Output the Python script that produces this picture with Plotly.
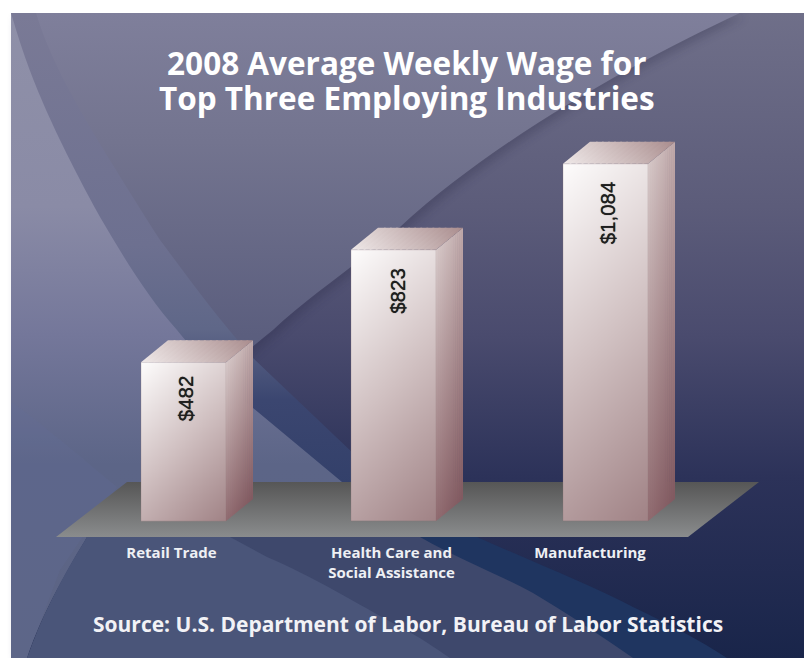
import base64
import numpy as np
import plotly.graph_objects as go

# Chart data
industries = ["Retail Trade", "Health Care and<br>Social Assistance", "Manufacturing"]
wages = [482, 823, 1084]
wage_labels = ["$482", "$823", "$1,084"]
title_text = "2008 Average Weekly Wage for<br>Top Three Employing Industries"
source_text = "Source: U.S. Department of Labor, Bureau of Labor Statistics"

# Page and plot geometry, in pixels
W, H = 804, 658
PLOT_BOTTOM = 537
BASE_Y = 521
X0_PX, X_STEP = 183.5, 211.0
PX_PER_DOLLAR = 0.3295

to_x = lambda px: (px - X0_PX) / X_STEP
to_y = lambda px: (BASE_Y - px) / PX_PER_DOLLAR

BAR_CENTRES_PX = [183.5, 393.5, 605.5]
TICK_CENTRES_PX = [171.5, 391.5, 590]
LABEL_CENTRES_PX = [185, 398, 607]
LABEL_DROP_PX = [11, 16, 16]

BAR_WIDTH = 85 / X_STEP
DEPTH_X = 27 / X_STEP
DEPTH_Y = 22 / PX_PER_DOLLAR


def mix(stops, t):
    """Colour at position t along a list of (position, (r, g, b)) stops."""
    for (p0, c0), (p1, c1) in zip(stops, stops[1:]):
        if t <= p1:
            f = 0 if p1 == p0 else max(0, (t - p0) / (p1 - p0))
            return tuple(a + (b - a) * f for a, b in zip(c0, c1))
    return stops[-1][1]


def css(c):
    return "rgb(%d,%d,%d)" % tuple(round(v) for v in c)


FRONT = [(0, (253, 252, 252)), (0.5, (208, 192, 193)), (1, (160, 130, 133))]
SIDE = [(0, (214, 200, 200)), (0.5, (168, 136, 138)), (1, (128, 88, 95))]
TOP = [(0, (240, 234, 234)), (0.5, (205, 188, 188)), (1, (168, 138, 139))]

BACKGROUND_SVG = f"""<svg xmlns='http://www.w3.org/2000/svg' width='{W}' height='{H}' viewBox='0 0 {W} {H}'>
<defs>
<linearGradient id='base' x1='0' y1='13' x2='0' y2='658' gradientUnits='userSpaceOnUse'>
<stop offset='0' stop-color='#6f6f89'/><stop offset='.3' stop-color='#5c5c7a'/>
<stop offset='.5' stop-color='#4a4b6e'/><stop offset='.72' stop-color='#2c3259'/>
<stop offset='1' stop-color='#19254a'/></linearGradient>
<linearGradient id='sweep' x1='0' y1='13' x2='0' y2='658' gradientUnits='userSpaceOnUse'>
<stop offset='0' stop-color='#7f7f9b'/><stop offset='.2' stop-color='#73748f'/>
<stop offset='.5' stop-color='#5b5e7e'/><stop offset='.75' stop-color='#4e587b'/>
<stop offset='1' stop-color='#475376'/></linearGradient>
<linearGradient id='edge' x1='0' y1='13' x2='0' y2='658' gradientUnits='userSpaceOnUse'>
<stop offset='0' stop-color='#8f90a8'/><stop offset='.3' stop-color='#8a8ba6'/>
<stop offset='.5' stop-color='#74779a'/><stop offset='.7' stop-color='#5c6587'/>
<stop offset='1' stop-color='#5c6484'/></linearGradient>
<linearGradient id='band' x1='0' y1='13' x2='0' y2='658' gradientUnits='userSpaceOnUse'>
<stop offset='0' stop-color='#7a7a96'/><stop offset='.36' stop-color='#6d7090'/>
<stop offset='.49' stop-color='#5f6788'/><stop offset='.6' stop-color='#3b4670'/>
<stop offset='.73' stop-color='#33406a'/><stop offset='1' stop-color='#33406a'/></linearGradient>
<linearGradient id='floor' x1='0' y1='482' x2='0' y2='537' gradientUnits='userSpaceOnUse'>
<stop offset='0' stop-color='#565656'/><stop offset='1' stop-color='#8a8c8d'/></linearGradient>
<filter id='soft'><feGaussianBlur stdDeviation='5'/></filter>
</defs>
<rect x='11' y='13' width='793' height='645' fill='url(#base)'/>
<path d='M740 13C640 60 500 135 400 227C360 263 310 295 273 330C190 395 130 480 87 537C55 590 38 625 27 658L11 658L11 13Z' fill='#20203c' opacity='.25' filter='url(#soft)' transform='translate(5 4)'/>
<rect x='0' y='0' width='804' height='13' fill='white'/>
<path d='M740 13C640 60 500 135 400 227C360 263 310 295 273 330C190 395 130 480 87 537C55 590 38 625 27 658L11 658L11 13Z' fill='url(#sweep)'/>
<path d='M36 13C55 75 93 133 160 240C190 280 215 315 253 358L355 455L355 482L11 482L11 13Z' fill='url(#band)'/>
<path d='M11 13C25 60 40 107 100 217C125 260 150 300 177 330C205 365 235 395 253 408L342 482L130 482L87 537C55 590 38 625 27 658L11 658Z' fill='url(#edge)'/>
<path d='M13 403C50 430 90 465 117 487L60 570L27 658L11 658L11 403Z' fill='#63709a' opacity='.2'/>
<path d='M477 537C540 565 590 585 633 607C670 625 700 640 727 658L420 658L420 537Z' fill='#1f3560'/>
<path d='M420 537C460 560 500 575 533 593C570 615 600 635 633 658L27 658L87 537Z' fill='#3e486c'/>
<path d='M267 557C310 575 360 605 400 627C420 637 435 648 450 658L27 658C40 620 60 580 87 537L230 537Z' fill='#4a5579'/>
<path d='M127 482L759 482L688 537L56 537Z' fill='url(#floor)'/>
</svg>"""
background_uri = "data:image/svg+xml;base64," + base64.b64encode(BACKGROUND_SVG.encode()).decode()

fig = go.Figure()

centres = [to_x(px) for px in BAR_CENTRES_PX]

for c, wage in zip(centres, wages):
    left = c - BAR_WIDTH / 2

    # 45 degree shading on the front face, measured in screen pixels
    n = 60
    dx, dy = BAR_WIDTH / n, wage / n
    u = (np.arange(n) + 0.5) / n
    w_px, h_px = 85.0, wage * PX_PER_DOLLAR
    z = (u[None, :] * w_px + (1 - u)[:, None] * h_px) / (w_px + h_px)
    scale = [[p, css(col)] for p, col in FRONT]
    fig.add_trace(go.Heatmap(
        x0=left + dx / 2, dx=dx, y0=dy / 2, dy=dy, z=z, zmin=0, zmax=1,
        colorscale=scale, showscale=False, zsmooth="best", hoverinfo="skip",
    ))

# Column outlines carrying the wage values
fig.add_trace(go.Bar(
    x=centres, y=wages, width=BAR_WIDTH,
    marker=dict(color="rgba(0,0,0,0)", line=dict(width=1, color="rgba(140,112,115,0.25)")),
    hoverinfo="skip", showlegend=False,
))

for c, wage in zip(centres, wages):
    left, right = c - BAR_WIDTH / 2, c + BAR_WIDTH / 2

    # Side and top faces, built from narrow columns with a graded fade
    slices = 14
    for i in range(slices):
        t0, t1 = i / slices, min(1, (i + 1.3) / slices)
        tm = (t0 + t1) / 2
        # Side face
        xa, xb = right + DEPTH_X * t0, right + DEPTH_X * t1
        ya0, yb0 = DEPTH_Y * t0, DEPTH_Y * t1
        fig.add_trace(go.Scatter(
            x=[xa, xb, xb, xa, xa], y=[ya0, yb0, wage + yb0, wage + ya0, ya0],
            mode="lines", line=dict(width=0), fill="toself",
            fillcolor=css(mix(SIDE, 0.5)),
            fillgradient=dict(type="vertical", colorscale=[
                [0, css(mix(SIDE, 0.8 + tm * 0.2))], [1, css(mix(SIDE, tm * 0.25))]]),
            hoverinfo="skip", showlegend=False,
        ))
        # Top face
        xa, xb = left + BAR_WIDTH * t0, left + BAR_WIDTH * t1
        fig.add_trace(go.Scatter(
            x=[xa, xb, xb + DEPTH_X, xa + DEPTH_X, xa],
            y=[wage, wage, wage + DEPTH_Y, wage + DEPTH_Y, wage],
            mode="lines", line=dict(width=0), fill="toself",
            fillcolor=css(mix(TOP, tm)),
            fillgradient=dict(type="horizontal", colorscale=[
                [0, css(mix(TOP, 0.6 * t0))], [1, css(mix(TOP, min(1, 0.6 * t1 + 0.4)))]]),
            hoverinfo="skip", showlegend=False,
        ))

# Rotated wage labels just under each column's top edge
for px, drop, wage, text in zip(LABEL_CENTRES_PX, LABEL_DROP_PX, wages, wage_labels):
    fig.add_annotation(
        x=to_x(px), y=wage - drop / PX_PER_DOLLAR, text=text, textangle=-90, showarrow=False,
        xanchor="center", yanchor="top",
        font=dict(family="Liberation Sans", size=20.5, color="#1e1e1e", shadow="0 0 0.7px #1e1e1e"),
    )

# Title and source line, placed by page pixel; the small base size sets the tight
# line spacing of the title while the span sets the size of its glyphs
title_lines = title_text.split("<br>")
fig.add_annotation(
    xref="paper", yref="paper", x=407 / W, y=1 - 80 / PLOT_BOTTOM,
    text="<br>".join(f'<span style="font-size:31.5px">{line}</span>' for line in title_lines),
    showarrow=False, xanchor="center", yanchor="middle", align="center",
    font=dict(family="Open Sans", size=27, color="white", weight="bold"),
)
fig.add_annotation(
    xref="paper", yref="paper", x=408 / W, y=1 - 624 / PLOT_BOTTOM, text=source_text, showarrow=False,
    xanchor="center", yanchor="middle",
    font=dict(family="Open Sans", size=21, color="#f2f2f6", weight="bold"),
)

fig.update_layout(
    width=W, height=H, autosize=False,
    margin=dict(l=0, r=0, t=0, b=H - PLOT_BOTTOM, pad=0),
    paper_bgcolor="white", plot_bgcolor="rgba(0,0,0,0)",
    showlegend=False, barmode="overlay",
    images=[dict(
        source=background_uri, xref="paper", yref="paper", x=0, y=1, sizex=1,
        sizey=H / PLOT_BOTTOM, sizing="stretch", xanchor="left", yanchor="top", layer="below",
    )],
    xaxis=dict(
        range=[to_x(0), to_x(W)], showgrid=False, zeroline=False, showline=False, ticks="",
        tickmode="array", tickvals=[to_x(px) for px in TICK_CENTRES_PX],
        ticktext=industries, ticklabelstandoff=5,
        tickfont=dict(family="Open Sans", size=15, color="#eef0f4", weight="bold"),
    ),
    yaxis=dict(
        range=[to_y(PLOT_BOTTOM), to_y(0)], visible=False, showgrid=False, zeroline=False,
    ),
)

fig.write_html("out.html")
